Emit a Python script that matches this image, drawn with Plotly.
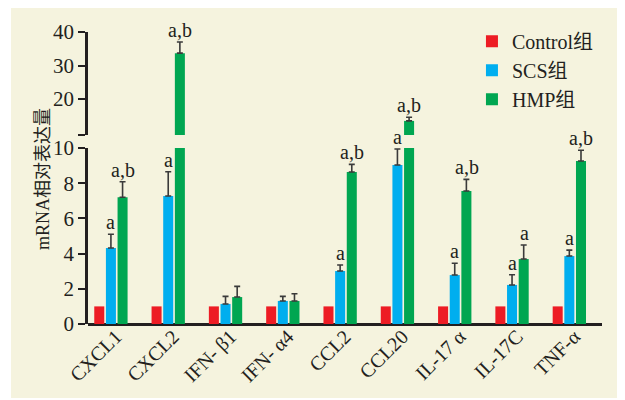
import plotly.graph_objects as go

categories = ["CXCL1", "CXCL2", "IFN- β1", "IFN- α4", "CCL2", "CCL20", "IL-17 α", "IL-17C", "TNF-α"]
control = [1, 1, 1, 1, 1, 1, 1, 1, 1]
scs = [4.32, 7.27, 1.14, 1.31, 3.01, 9.03, 2.78, 2.22, 3.86]
scs_err = [0.78, 1.38, 0.43, 0.26, 0.34, 0.91, 0.67, 0.58, 0.34]
hmp = [7.2, 33.7, 1.53, 1.31, 8.64, 13.5, 7.56, 3.69, 9.26]
hmp_err = [0.88, 3.3, 0.61, 0.41, 0.43, 1.1, 0.66, 0.8, 0.61]
scs_labels = ["a", "a", "", "", "a", "a", "a", "a", "a"]
hmp_labels = ["a,b", "a,b", "", "", "a,b", "a,b", "a,b", "a", "a,b"]
series_names = ["Control组", "SCS组", "HMP组"]
colors = ["#ED1C24", "#00AEEF", "#00A651"]

FONT = "Liberation Serif, Times New Roman, Noto Sans CJK SC, serif"
TXT = "#231F20"
BREAK = 10
UPPER_MIN = 9.3

fig = go.Figure()

def err(vals):
    if vals is None:
        return None
    return dict(type="data", array=vals, arrayminus=[0] * len(vals), symmetric=False,
                color="#3a3a3a", thickness=1.6, width=3)

data = [(control, None), (scs, scs_err), (hmp, hmp_err)]
for (vals, e), name, c in zip(data, series_names, colors):
    fig.add_trace(go.Bar(x=categories, y=vals, name=name, marker=dict(color=c, line=dict(width=0)),
                         error_y=err(e), xaxis="x", yaxis="y"))
for (vals, e), name, c in zip(data, series_names, colors):
    up_vals = [v if v > BREAK else None for v in vals]
    up_err = None if e is None else [ee if v > BREAK else 0 for v, ee in zip(vals, e)]
    fig.add_trace(go.Bar(x=categories, y=up_vals, name=name, marker=dict(color=c, line=dict(width=0)),
                         error_y=err(up_err), xaxis="x2", yaxis="y2", showlegend=False))

# significance labels
annotations = []
for vals, errs, labels, xs in [(scs, scs_err, scs_labels, 0.0), (hmp, hmp_err, hmp_labels, 0.21)]:
    for i, (v, e, lab) in enumerate(zip(vals, errs, labels)):
        if not lab:
            continue
        top = v + e
        yref = "y2" if top > BREAK else "y"
        annotations.append(dict(x=i + xs, y=top, xref="x" if yref == "y" else "x2", yref=yref,
                                text=lab, showarrow=False, yanchor="bottom", yshift=-1,
                                font=dict(family=FONT, size=20, color=TXT)))

annotations.append(dict(x=-0.0875, y=0.497, xref="paper", yref="paper", text="mRNA相对表达量",
                        textangle=-90, showarrow=False, xanchor="center", yanchor="middle",
                        font=dict(family=FONT, size=18, color=TXT)))

xr = [-0.40, 8.57]
lab_dy = 4 / 292                 # tick labels sit close under the axis line
lower_top = (324 - 148) / 292
upper_bot = (324 - 135) / 292

# the page body adds an 8px offset, so the figure is sized 617x392 and margins are shifted by 8px
fig.update_layout(
    width=617, height=392,
    margin=dict(l=80, r=23, t=24, b=76, autoexpand=False),
    paper_bgcolor="white", plot_bgcolor="rgba(0,0,0,0)",
    barmode="group", bargap=0.39, bargroupgap=0.14,
    font=dict(family=FONT, size=19, color=TXT),
    showlegend=True,
    legend=dict(x=0.747, y=1.035, xanchor="left", yanchor="top", bgcolor="rgba(0,0,0,0)",
                font=dict(family=FONT, size=20, color=TXT), tracegroupgap=0),
    xaxis=dict(domain=[0, 1], range=xr, anchor="free", position=lab_dy, showline=False,
               ticks="", tickangle=-45, tickfont=dict(family=FONT, size=20, color=TXT),
               ticklabelshift=5,
               showgrid=False, zeroline=False, automargin=False),
    yaxis=dict(domain=[0, lower_top], range=[0, BREAK], anchor="x", showline=True, linewidth=2.5,
               linecolor=TXT, ticks="outside", ticklen=7, tickwidth=2, tickcolor=TXT,
               tickvals=[0, 2, 4, 6, 8, 10], showgrid=False, automargin=False,
               zeroline=True, zerolinecolor=TXT, zerolinewidth=3,
               tickfont=dict(family=FONT, size=21, color=TXT)),
    xaxis2=dict(domain=[0, 1], range=xr, anchor="y2", visible=False, matches="x"),
    yaxis2=dict(domain=[upper_bot, 1], range=[UPPER_MIN, 40], anchor="x2", showline=True, linewidth=2.5,
                linecolor=TXT, ticks="outside", ticklen=7, tickwidth=2, tickcolor=TXT,
                tickvals=[UPPER_MIN, 20, 30, 40], ticktext=["", "20", "30", "40"], automargin=False,
                showgrid=False, zeroline=False, tickfont=dict(family=FONT, size=21, color=TXT)),
    annotations=annotations,
    shapes=[dict(type="rect", xref="paper", yref="paper", x0=(11 - 88) / 514, x1=(624 - 88) / 514,
                 y0=(324 - 398) / 292, y1=(324 - 4) / 292, fillcolor="#F5F3DE", line=dict(width=0),
                 layer="below")],
)

fig.write_html("out.html")
